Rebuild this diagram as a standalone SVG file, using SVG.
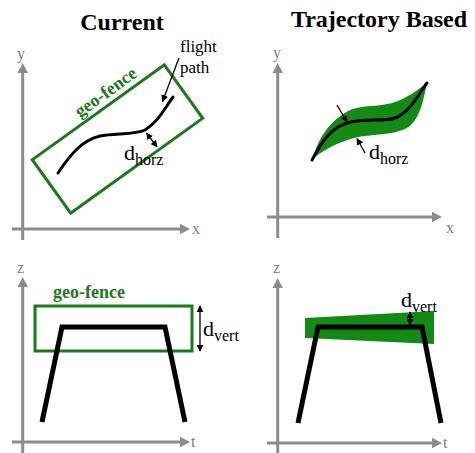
<svg xmlns="http://www.w3.org/2000/svg" width="475" height="453" viewBox="0 0 475 453">
<style>
.ax{stroke:#8c8c8c;stroke-width:3;fill:none}
.ah{fill:#8c8c8c}
.axl{font-family:"Liberation Serif",serif;font-size:16px;fill:#808080}
.title{font-family:"Liberation Serif",serif;font-size:24px;font-weight:bold;fill:#000;text-anchor:middle}
.gf{fill:none;stroke:#1b7a1b;stroke-width:3}
.gft{font-family:"Liberation Serif",serif;font-size:18px;font-weight:bold;fill:#1b7a1b}
.path{fill:none;stroke:#000;stroke-width:3;stroke-linecap:round}
.traj{fill:none;stroke:#000;stroke-width:5;stroke-linejoin:miter}
.lbl{font-family:"Liberation Serif",serif;font-size:17px;fill:#000}
.d{font-family:"Liberation Serif",serif;font-size:22px;fill:#000}
.sub{font-size:16px}
.arr{stroke:#000;stroke-width:1.3;fill:none}
.band{fill:#138a13}
</style>
<defs>
<marker id="ahd" viewBox="0 0 10 10" refX="9" refY="5" markerWidth="7" markerHeight="7" markerUnits="userSpaceOnUse" orient="auto-start-reverse">
<path d="M0,0 L10,5 L0,10 Z" fill="#000"/>
</marker>
</defs>

<text class="title" x="122" y="30">Current</text>
<text class="title" x="379" y="27">Trajectory Based</text>

<g id="axes-top-left">
<line class="ax" x1="22.7" y1="240" x2="22.7" y2="72"/>
<path class="ah" d="M22.7,63 L17.5,73 L27.9,73 Z"/>
<line class="ax" x1="12" y1="229" x2="181" y2="229"/>
<path class="ah" d="M190,229 L180,223.8 L180,234.2 Z"/>
<text class="axl" x="17" y="59">y</text>
<text class="axl" x="192" y="234">x</text>
</g>

<g id="axes-top-right">
<line class="ax" x1="277.7" y1="238" x2="277.7" y2="72"/>
<path class="ah" d="M277.7,63 L272.5,73 L282.9,73 Z"/>
<line class="ax" x1="267" y1="217" x2="433" y2="217"/>
<path class="ah" d="M442,217 L432,211.8 L432,222.2 Z"/>
<text class="axl" x="273" y="58">y</text>
<text class="axl" x="446" y="233">x</text>
</g>

<g id="axes-bottom-left">
<line class="ax" x1="22.7" y1="453" x2="22.7" y2="286"/>
<path class="ah" d="M22.7,277 L17.5,287 L27.9,287 Z"/>
<line class="ax" x1="12" y1="442" x2="181" y2="442"/>
<path class="ah" d="M190,442 L180,436.8 L180,447.2 Z"/>
<text class="axl" x="17" y="273">z</text>
<text class="axl" x="191" y="447">t</text>
</g>

<g id="axes-bottom-right">
<line class="ax" x1="277.7" y1="453" x2="277.7" y2="287"/>
<path class="ah" d="M277.7,278 L272.5,288 L282.9,288 Z"/>
<line class="ax" x1="267" y1="443" x2="433" y2="443"/>
<path class="ah" d="M442,443 L432,437.8 L432,448.2 Z"/>
<text class="axl" x="273" y="273">z</text>
<text class="axl" x="443" y="448">t</text>
</g>

<g id="geofence-horz">
<rect class="gf" x="-81.3" y="-32.9" width="162.6" height="65.8" transform="translate(117.5,139) rotate(-35.7)"/>
<text class="gft" x="80" y="118" transform="rotate(-36 80 118)">geo-fence</text>
</g>

<g id="flight-path-left">
<path class="path" d="M58,173 C70,155 82,140 100,136 C115,133 135,135 145,130 C158,122 165,108 173,97"/>
<text class="lbl" x="180" y="52">flight</text>
<text class="lbl" x="180" y="73">path</text>
</g>

<g id="dhorz-left">
<text class="d" x="124" y="160">d<tspan class="sub" dy="5">horz</tspan></text>
</g>

<g id="traj-band-top">
<path class="band" d="M312,160 C318,140 328,122 348,111 C362,104 380,108 398,101 C412,95 420,88 427,83 C424,95 422,115 410,126 C398,135 375,134 358,137 C340,141 322,150 312,160 Z"/>
<path class="path" d="M312,160 C320,145 330,128 347,123 C365,118 385,122 395,118 C410,112 418,95 427,83"/>
<text class="d" x="369" y="159">d<tspan class="sub" dy="5">horz</tspan></text>
</g>

<g id="geofence-vert">
<rect class="gf" x="35" y="306" width="157" height="45"/>
<text class="gft" x="53" y="298">geo-fence</text>
<path class="traj" d="M42,422 L62,327 L165,327 L185,422"/>
<text class="d" x="203" y="336">d<tspan class="sub" dy="5">vert</tspan></text>
</g>

<g id="traj-band-bottom">
<path class="band" d="M305,318 L434,311 L434,344 L305,338 Z"/>
<path class="traj" d="M298,423 L318,327 L422,327 L441,423"/>
<text class="d" x="401" y="307">d<tspan class="sub" dy="5">vert</tspan></text>
</g>

<g id="connectors">
<line class="arr" x1="179" y1="58" x2="162.5" y2="101.5" marker-end="url(#ahd)"/>
<line class="arr" x1="146.5" y1="133" x2="157" y2="147" marker-start="url(#ahd)" marker-end="url(#ahd)"/>
<line class="arr" x1="337" y1="105" x2="347" y2="122" marker-end="url(#ahd)"/>
<line class="arr" x1="365" y1="153" x2="357" y2="138.5" marker-end="url(#ahd)"/>
<line class="arr" x1="200" y1="306" x2="200" y2="351" marker-start="url(#ahd)" marker-end="url(#ahd)"/>
<line class="arr" x1="410" y1="312" x2="410" y2="325" marker-start="url(#ahd)" marker-end="url(#ahd)"/>
</g>
</svg>
